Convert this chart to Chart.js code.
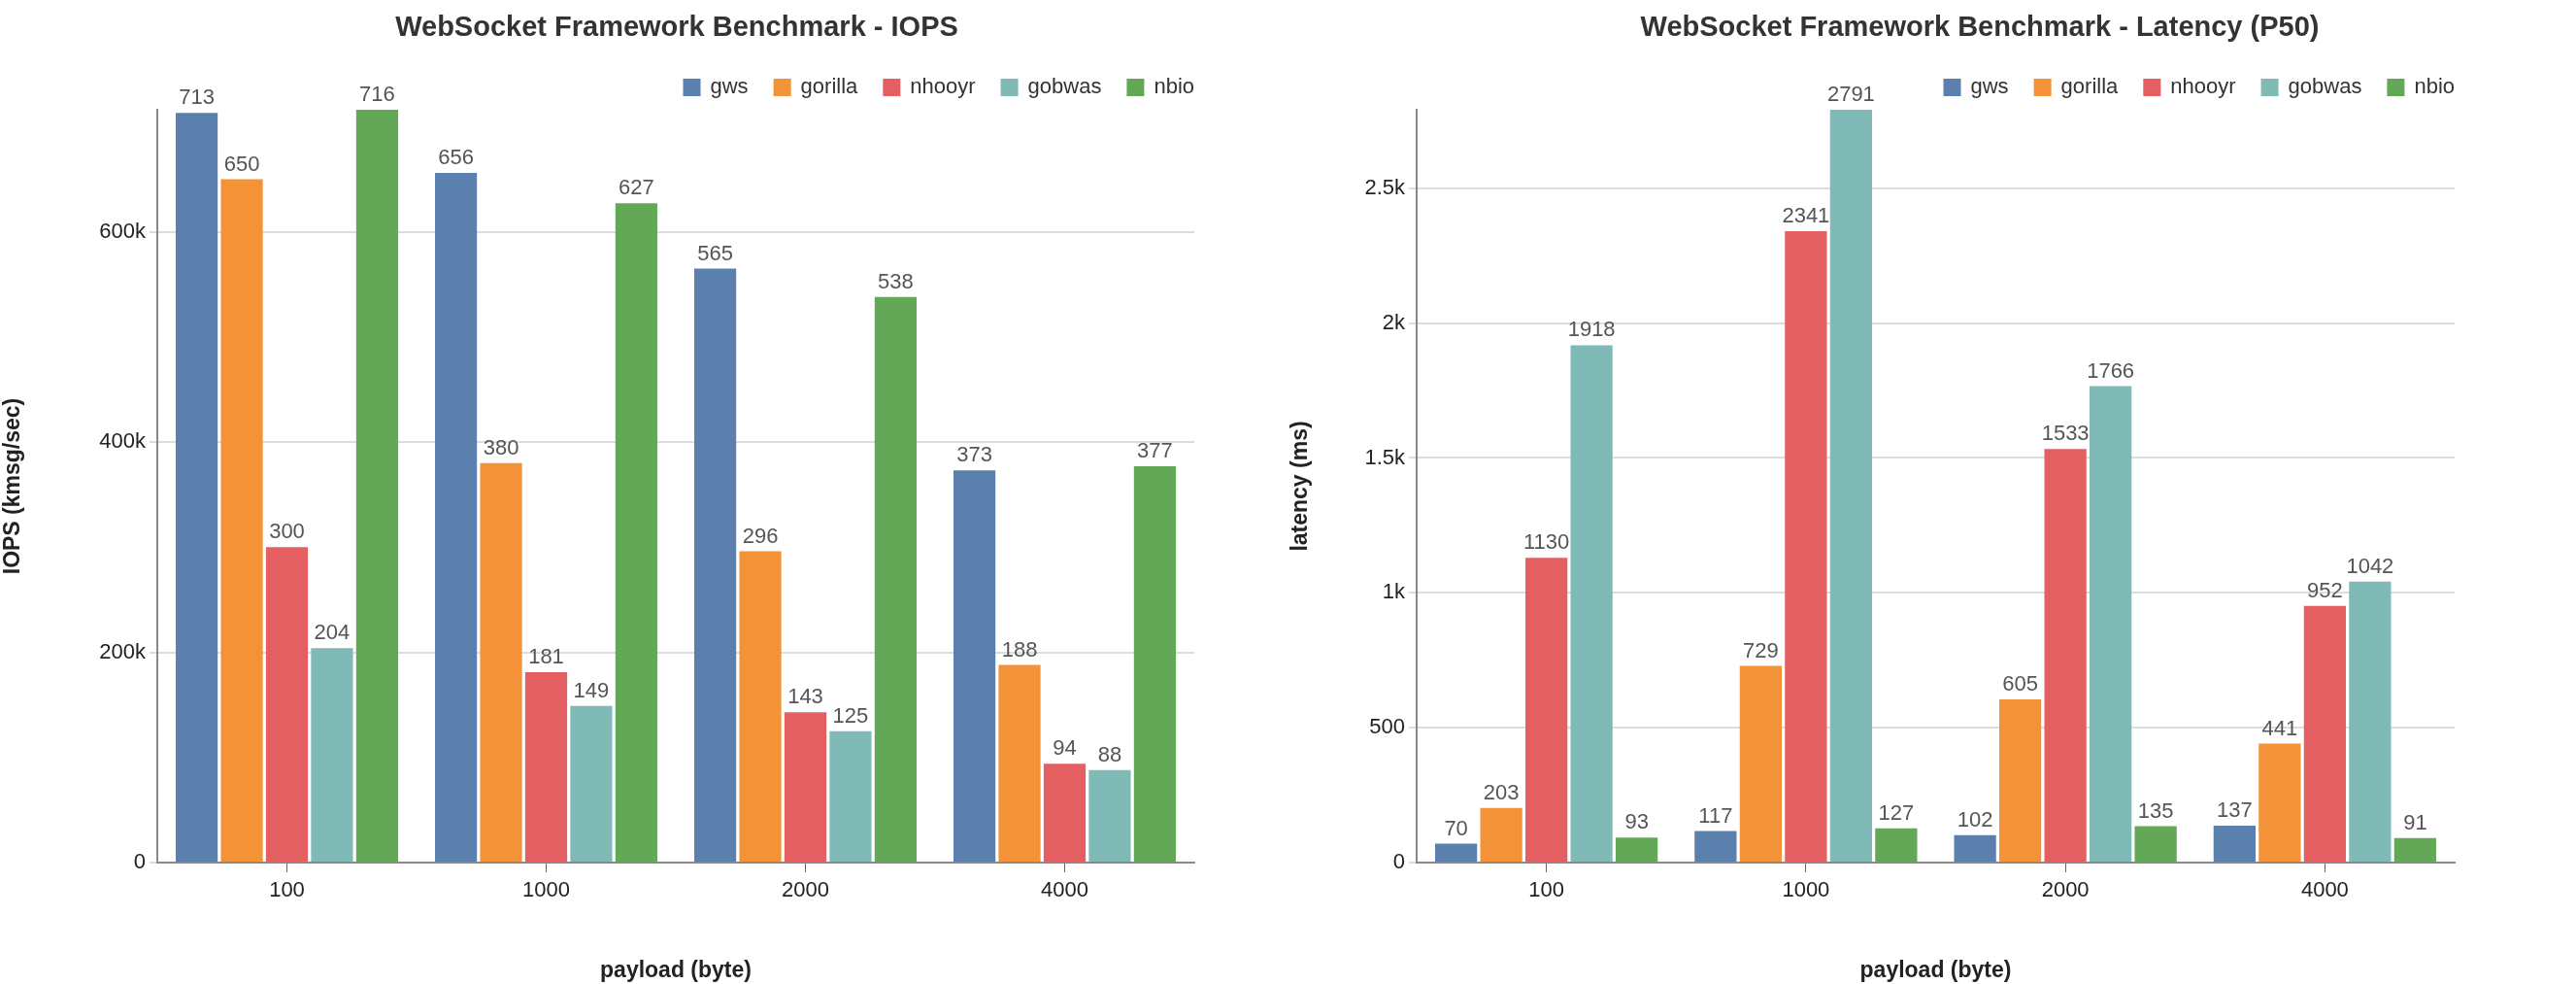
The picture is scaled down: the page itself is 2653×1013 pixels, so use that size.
<!DOCTYPE html>
<html>
<head>
<meta charset="utf-8">
<script src="https://cdn.jsdelivr.net/npm/chart.js@4"></script>
<style>
  body { margin: 0; background: #fff; }
  .wrap { display: flex; width: 2653px; height: 1013px; }
  .box { position: relative; width: 1326px; height: 1013px; }
</style>
</head>
<body>
<div class="wrap">
  <div class="box"><canvas id="iops"></canvas></div>
  <div class="box"><canvas id="latency"></canvas></div>
</div>
<script>
const payloads = ['100', '1000', '2000', '4000'];
const frameworks = ['gws', 'gorilla', 'nhooyr', 'gobwas', 'nbio'];
const colors = ['#5b80ad', '#f39237', '#e35f61', '#7fbab6', '#62a857'];

// IOPS in k msg/sec, per framework
const iopsGws = [713, 656, 565, 373];
const iopsGorilla = [650, 380, 296, 188];
const iopsNhooyr = [300, 181, 143, 94];
const iopsGobwas = [204, 149, 125, 88];
const iopsNbio = [716, 627, 538, 377];
const iopsTicks = [0, 200, 400, 600];

// P50 latency in ms
const latGws = [70, 117, 102, 137];
const latGorilla = [203, 729, 605, 441];
const latNhooyr = [1130, 2341, 1533, 952];
const latGobwas = [1918, 2791, 1766, 1042];
const latNbio = [93, 127, 135, 91];
const latTicks = [0, 500, 1000, 1500, 2000, 2500];

const FONT = '"Liberation Sans", Arial, sans-serif';

// draws the value above each bar
const barLabels = {
  id: 'barLabels',
  afterDatasetsDraw(chart) {
    const ctx = chart.ctx;
    ctx.save();
    ctx.font = '22px ' + FONT;
    ctx.fillStyle = '#555';
    ctx.textAlign = 'center';
    ctx.textBaseline = 'bottom';
    chart.data.datasets.forEach((ds, i) => {
      chart.getDatasetMeta(i).data.forEach((bar, j) => {
        ctx.fillText(ds.data[j], bar.x, bar.y - 4);
      });
    });
    ctx.restore();
  }
};

// title + legend drawn at fixed spots
const header = {
  id: 'header',
  afterDraw(chart) {
    const ctx = chart.ctx;
    const o = chart.options.plugins.header;
    ctx.save();
    ctx.fillStyle = '#333';
    ctx.font = 'bold 29px ' + FONT;
    ctx.textAlign = 'center';
    ctx.textBaseline = 'middle';
    ctx.fillText(o.title, o.titleX, 29);
    ctx.font = '22px ' + FONT;
    ctx.textAlign = 'left';
    let widths = frameworks.map(f => ctx.measureText(f).width);
    let total = widths.reduce((a, w) => a + 18 + 10 + w, 0) + 26 * (frameworks.length - 1);
    let x = chart.chartArea.right - total;
    frameworks.forEach((f, i) => {
      ctx.fillStyle = colors[i];
      ctx.fillRect(x, 81, 18, 18);
      ctx.fillStyle = '#333';
      ctx.fillText(f, x + 28, 90);
      x += 28 + widths[i] + 26;
    });
    ctx.restore();
  }
};

function makeChart(id, series, ticks, max, yTitle, title, yWidth, padRight, titleX) {
  new Chart(document.getElementById(id), {
    type: 'bar',
    data: {
      labels: payloads,
      datasets: series.map((d, i) => ({
        label: frameworks[i],
        data: d,
        backgroundColor: colors[i],
        borderWidth: 0,
        categoryPercentage: 0.87,
        barPercentage: 0.93
      }))
    },
    options: {
      responsive: false,
      animation: false,
      layout: { padding: { top: 113, right: padRight, bottom: 0, left: 0 } },
      plugins: {
        legend: { display: false },
        title: { display: false },
        tooltip: { enabled: false },
        header: { title: title, titleX: titleX }
      },
      scales: {
        x: {
          grid: { drawOnChartArea: false, offset: false, tickLength: 10, color: '#666' },
          border: { color: '#888', width: 2 },
          ticks: { font: { size: 22, family: FONT }, color: '#222', padding: 6 },
          title: { display: true, text: 'payload (byte)', font: { size: 23, weight: 'bold', family: FONT }, color: '#222', padding: 0 },
          afterFit(s) { s.height = 125; }
        },
        y: {
          min: 0,
          max: max,
          afterBuildTicks(s) { s.ticks = ticks.map(v => ({ value: v })); },
          grid: { color: '#ddd', lineWidth: 2, tickLength: 8, drawTicks: true },
          border: { color: '#888', width: 2 },
          ticks: {
            font: { size: 22, family: FONT }, color: '#222', padding: 4,
            callback: v => v === 0 ? '0' : (v >= 1000 ? (v / 1000) + 'k' : v + (id === 'iops' ? 'k' : ''))
          },
          title: { display: true, text: yTitle, font: { size: 23, weight: 'bold', family: FONT }, color: '#222', padding: 0 },
          afterFit(s) { s.width = yWidth; }
        }
      }
    },
    plugins: [barLabels, header]
  });
}

document.getElementById('iops').width = 1326;
document.getElementById('iops').height = 1013;
document.getElementById('latency').width = 1326;
document.getElementById('latency').height = 1013;

makeChart('iops', [iopsGws, iopsGorilla, iopsNhooyr, iopsGobwas, iopsNbio], iopsTicks, 716,
  'IOPS (kmsg/sec)', 'WebSocket Framework Benchmark - IOPS', 162, 96, 697);
makeChart('latency', [latGws, latGorilla, latNhooyr, latGobwas, latNbio], latTicks, 2791,
  'latency (ms)', 'WebSocket Framework Benchmark - Latency (P50)', 133, 124, 713);
</script>
</body>
</html>
